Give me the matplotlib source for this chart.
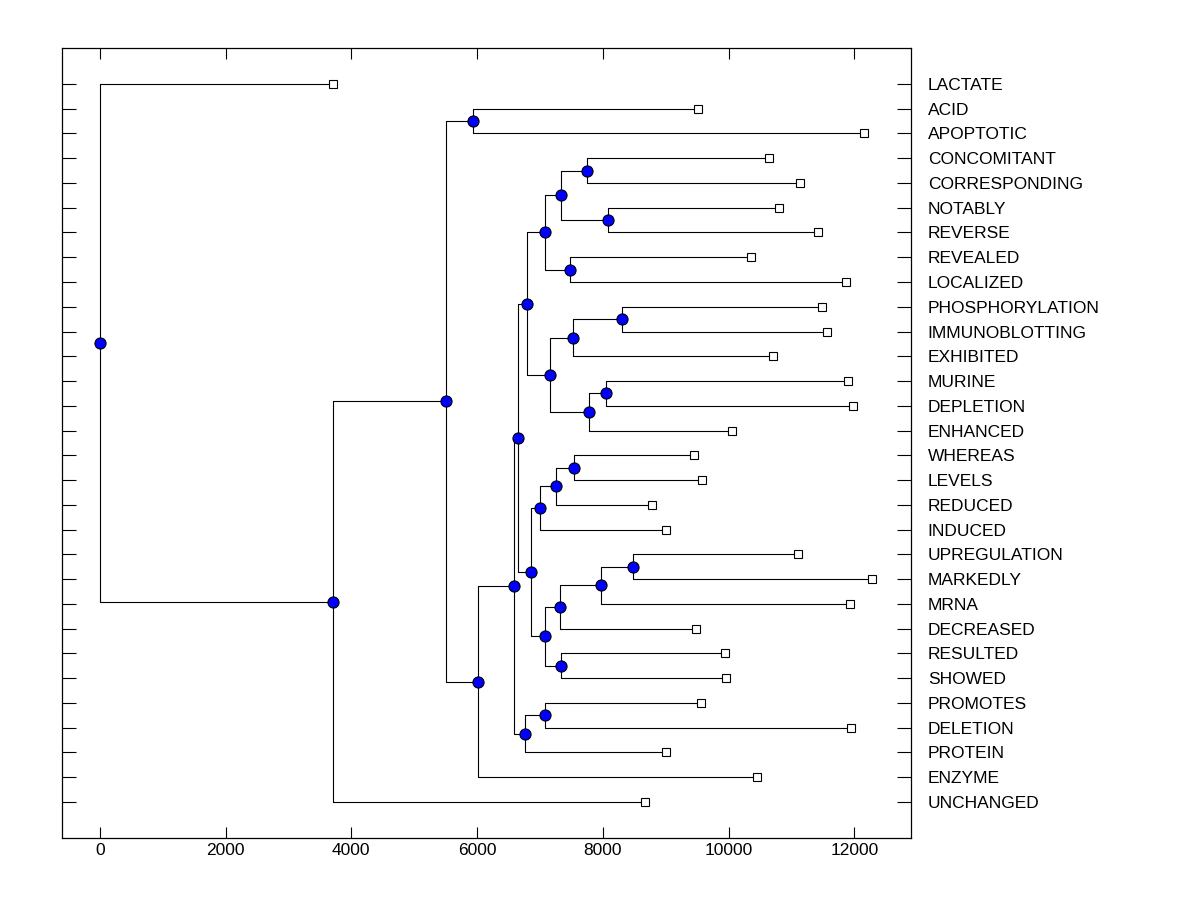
import matplotlib.pyplot as plt

plt.rcParams['font.family'] = ['Liberation Sans', 'DejaVu Sans']

# leaf labels (top to bottom) and their heights
leaves = ['LACTATE', 'ACID', 'APOPTOTIC', 'CONCOMITANT', 'CORRESPONDING', 'NOTABLY',
          'REVERSE', 'REVEALED', 'LOCALIZED', 'PHOSPHORYLATION', 'IMMUNOBLOTTING',
          'EXHIBITED', 'MURINE', 'DEPLETION', 'ENHANCED', 'WHEREAS', 'LEVELS',
          'REDUCED', 'INDUCED', 'UPREGULATION', 'MARKEDLY', 'MRNA', 'DECREASED',
          'RESULTED', 'SHOWED', 'PROMOTES', 'DELETION', 'PROTEIN', 'ENZYME', 'UNCHANGED']
leaf_height = [3705, 9510, 12150, 10640, 11130, 10800, 11420, 10350, 11860, 11480,
               11560, 10700, 11900, 11975, 10050, 9450, 9575, 8780, 9000, 11100,
               12280, 11930, 9480, 9940, 9955, 9560, 11945, 9000, 10450, 8670]

# internal nodes: name, height, left child, right child
merges = [
    ('n_acid', 5930, 'ACID', 'APOPTOTIC'),
    ('n_conc', 7745, 'CONCOMITANT', 'CORRESPONDING'),
    ('n_not', 8080, 'NOTABLY', 'REVERSE'),
    ('n_rev', 7475, 'REVEALED', 'LOCALIZED'),
    ('n_phos', 8300, 'PHOSPHORYLATION', 'IMMUNOBLOTTING'),
    ('n_mur', 8050, 'MURINE', 'DEPLETION'),
    ('n_wher', 7540, 'WHEREAS', 'LEVELS'),
    ('n_upr', 8480, 'UPREGULATION', 'MARKEDLY'),
    ('n_res', 7330, 'RESULTED', 'SHOWED'),
    ('n_prom', 7075, 'PROMOTES', 'DELETION'),
    ('n_i', 7330, 'n_conc', 'n_not'),
    ('n_h', 7075, 'n_i', 'n_rev'),
    ('n_n', 7520, 'n_phos', 'EXHIBITED'),
    ('n_p', 7775, 'n_mur', 'ENHANCED'),
    ('n_m', 7155, 'n_n', 'n_p'),
    ('n_g', 6790, 'n_h', 'n_m'),
    ('n_t', 7250, 'n_wher', 'REDUCED'),
    ('n_s', 6995, 'n_t', 'INDUCED'),
    ('n_x', 7965, 'n_upr', 'MRNA'),
    ('n_w', 7315, 'n_x', 'DECREASED'),
    ('n_v', 7075, 'n_w', 'n_res'),
    ('n_r', 6855, 'n_s', 'n_v'),
    ('n_f', 6650, 'n_g', 'n_r'),
    ('n_aa', 6760, 'n_prom', 'PROTEIN'),
    ('n_e', 6585, 'n_f', 'n_aa'),
    ('n_d', 6010, 'n_e', 'ENZYME'),
    ('n_b', 5500, 'n_acid', 'n_d'),
    ('n_a', 3705, 'n_b', 'UNCHANGED'),
    ('root', 0, 'LACTATE', 'n_a'),
]

pos = {name: (h, i) for i, (name, h) in enumerate(zip(leaves, leaf_height))}

fig = plt.figure(figsize=(12, 9), dpi=100)
ax = fig.add_axes([0.0517, 0.069, 0.7075, 0.8777])

for name, h, c1, c2 in merges:
    x1, y1 = pos[c1]
    x2, y2 = pos[c2]
    ax.plot([x1, h, h, x2], [y1, y1, y2, y2], color='black', lw=0.8, zorder=1)
    pos[name] = (h, (y1 + y2) / 2)

ax.plot(leaf_height, range(len(leaves)), 's', ms=6, mfc='white', mec='black',
        mew=0.8, ls='none', zorder=3)
nx = [pos[m[0]][0] for m in merges]
ny = [pos[m[0]][1] for m in merges]
ax.plot(nx, ny, 'o', ms=8, mfc='blue', mec='black', mew=0.8, ls='none', zorder=3)

ax.set_xlim(-600, 12900)
ax.set_ylim(len(leaves) - 1 + 1.45, -1.45)
ax.set_xticks([0, 2000, 4000, 6000, 8000, 10000, 12000])
ax.set_yticks(range(len(leaves)))
ax.set_yticklabels(leaves)
ax.tick_params(axis='both', direction='in', top=True, right=True, labelsize=12.5)
ax.tick_params(axis='y', left=True, labelleft=False, labelright=True, length=10, pad=12)
ax.tick_params(axis='x', length=8, pad=4)
for s in ax.spines.values():
    s.set_linewidth(0.9)

fig.savefig('out.png', dpi=100)
